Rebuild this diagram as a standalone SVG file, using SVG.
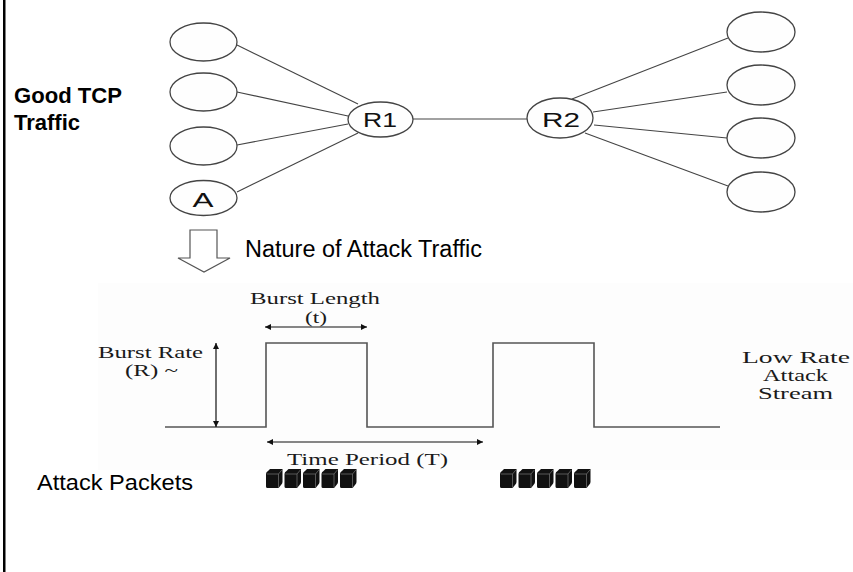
<svg xmlns="http://www.w3.org/2000/svg" width="853" height="572" viewBox="0 0 853 572">
  <defs>
    <marker id="tip" viewBox="0 0 10 10" refX="10" refY="5" markerWidth="9" markerHeight="6" markerUnits="userSpaceOnUse" orient="auto-start-reverse">
      <path d="M0,0 L10,5 L0,10 Z" fill="#111"/>
    </marker>
    <!-- one packet: front face, slanted top and side -->
    <g id="packet">
      <path d="M0,5 Q0,3 2,2 L4,0 L16.5,0 L16.5,13 Q16.5,14.5 15,16 L13,18.5 Q12.5,19 11,19 L1.5,19 Q0,19 0,17.5 Z" fill="#111"/>
      <path d="M0.8,5 L12.5,5 L16,0.8 M12.5,5 L12.5,18.5" fill="none" stroke="#777" stroke-width="0.7"/>
    </g>
  </defs>
  <style>
    .node { fill: #fefefe; stroke: #444; stroke-width: 1.3; }
    .link { stroke: #444; stroke-width: 1.1; fill: none; }
    .nlabel { font-family: "Liberation Sans", Arial, sans-serif; font-size: 20px; fill: #111; text-anchor: middle; }
    .sans { font-family: "Liberation Sans", Arial, sans-serif; fill: #000; }
    .serif { font-family: "Liberation Serif", "Times New Roman", serif; font-size: 16px; fill: #1a1a1a; }
    .wave { stroke: #555; stroke-width: 1.6; fill: none; }
    .dim { stroke: #111; stroke-width: 1.2; fill: none; marker-start: url(#tip); marker-end: url(#tip); }
  </style>

  <rect width="853" height="572" fill="#fff"/>
  <!-- left frame edge -->
  <rect x="3" y="0" width="2.5" height="572" fill="#000"/>

  <!-- connectors -->
  <g id="connectors">
    <line class="link" x1="237" y1="45" x2="358" y2="104"/>
    <line class="link" x1="237" y1="92" x2="348" y2="116"/>
    <line class="link" x1="237" y1="145" x2="348" y2="124"/>
    <line class="link" x1="237" y1="192" x2="358" y2="133"/>
    <line class="link" x1="413" y1="119" x2="527" y2="119"/>
    <line class="link" x1="572" y1="99" x2="728" y2="38"/>
    <line class="link" x1="593" y1="112" x2="727" y2="92"/>
    <line class="link" x1="594" y1="125" x2="727" y2="138"/>
    <line class="link" x1="585" y1="133" x2="728" y2="186"/>
  </g>

  <!-- hosts on the left -->
  <g id="host-l1"><ellipse class="node" cx="203.5" cy="42" rx="33.5" ry="19"/></g>
  <g id="host-l2"><ellipse class="node" cx="203.5" cy="92" rx="33.5" ry="19"/></g>
  <g id="host-l3"><ellipse class="node" cx="203.5" cy="146" rx="33.5" ry="19"/></g>
  <g id="host-a">
    <ellipse class="node" cx="203.5" cy="198" rx="33.5" ry="17.5"/>
    <text class="nlabel" x="203" y="207" textLength="21" lengthAdjust="spacingAndGlyphs">A</text>
  </g>

  <!-- routers -->
  <g id="router-r1">
    <ellipse class="node" cx="380.5" cy="119.5" rx="32.5" ry="17.5"/>
    <text class="nlabel" x="380" y="127" textLength="34" lengthAdjust="spacingAndGlyphs">R1</text>
  </g>
  <g id="router-r2">
    <ellipse class="node" cx="560" cy="118" rx="33" ry="20"/>
    <text class="nlabel" x="561" y="127" textLength="38" lengthAdjust="spacingAndGlyphs">R2</text>
  </g>

  <!-- hosts on the right -->
  <g id="host-r1"><ellipse class="node" cx="761" cy="32" rx="34" ry="20"/></g>
  <g id="host-r2"><ellipse class="node" cx="761" cy="85" rx="34" ry="20"/></g>
  <g id="host-r3"><ellipse class="node" cx="761" cy="138" rx="34" ry="20"/></g>
  <g id="host-r4"><ellipse class="node" cx="761" cy="192" rx="34" ry="20"/></g>

  <!-- caption for the good flows -->
  <g id="good-tcp-label" class="sans" font-size="22" font-weight="bold">
    <text x="14" y="103" textLength="108" lengthAdjust="spacingAndGlyphs">Good TCP</text>
    <text x="14" y="130" textLength="66" lengthAdjust="spacingAndGlyphs">Traffic</text>
  </g>

  <!-- hollow down arrow and heading -->
  <g id="down-arrow">
    <path d="M190,230 L217,230 L217,258 L230,258 L204,272 L178,258 L190,258 Z" fill="#fff" stroke="#555" stroke-width="1.2"/>
  </g>
  <text class="sans" x="245" y="257" font-size="23" textLength="237" lengthAdjust="spacingAndGlyphs">Nature of Attack Traffic</text>

  <!-- attack stream plot -->
  <rect x="98" y="283" width="755" height="187" fill="#fdfdfd"/>
  <path class="wave" d="M165,427 H266 V343 H367 V427 H493 V343 H594 V427 H720"/>

  <line class="dim" x1="216" y1="343" x2="216" y2="427"/>
  <line class="dim" x1="265" y1="327" x2="367" y2="327"/>
  <line class="dim" x1="267" y1="442" x2="483" y2="442"/>

  <g id="plot-labels" class="serif">
    <text x="250" y="304" textLength="130" lengthAdjust="spacingAndGlyphs">Burst Length</text>
    <text x="305" y="323" textLength="22" lengthAdjust="spacingAndGlyphs">(t)</text>
    <text x="98" y="358" textLength="105" lengthAdjust="spacingAndGlyphs">Burst Rate</text>
    <text x="125" y="376" textLength="53" lengthAdjust="spacingAndGlyphs">(R) ~</text>
    <text x="287" y="465" textLength="161" lengthAdjust="spacingAndGlyphs">Time Period (T)</text>
    <text x="742" y="363" textLength="108" lengthAdjust="spacingAndGlyphs">Low Rate</text>
    <text x="763" y="381" textLength="65" lengthAdjust="spacingAndGlyphs">Attack</text>
    <text x="758" y="399" textLength="75" lengthAdjust="spacingAndGlyphs">Stream</text>
  </g>

  <!-- packet bursts -->
  <g id="packets-1">
    <use href="#packet" x="266" y="469"/>
    <use href="#packet" x="284.5" y="469"/>
    <use href="#packet" x="303" y="469"/>
    <use href="#packet" x="321.5" y="469"/>
    <use href="#packet" x="340" y="469"/>
  </g>
  <g id="packets-2">
    <use href="#packet" x="500" y="469"/>
    <use href="#packet" x="518.5" y="469"/>
    <use href="#packet" x="537" y="469"/>
    <use href="#packet" x="555.5" y="469"/>
    <use href="#packet" x="574" y="469"/>
  </g>
  <text class="sans" x="37" y="490" font-size="22.5" textLength="156" lengthAdjust="spacingAndGlyphs">Attack Packets</text>
</svg>
